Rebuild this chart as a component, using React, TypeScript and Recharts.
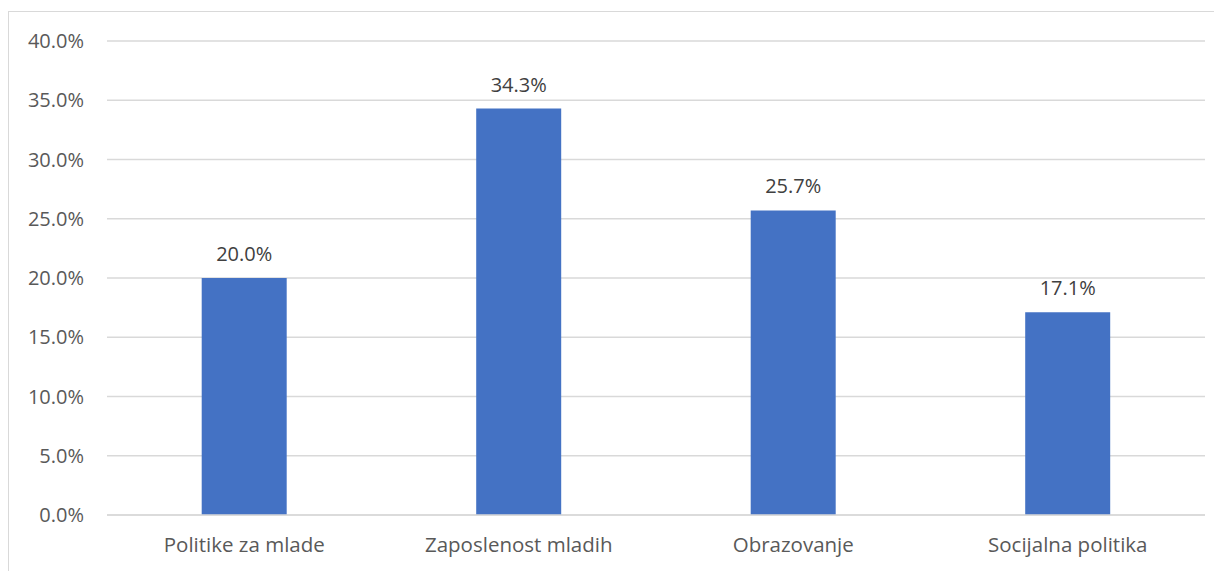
import React from 'react';
import { BarChart, Bar, XAxis, YAxis, CartesianGrid, LabelList } from 'recharts';

const categories = ['Politike za mlade', 'Zaposlenost mladih', 'Obrazovanje', 'Socijalna politika'];
const shares = [20.0, 34.3, 25.7, 17.1];
const yTicks = [0, 5, 10, 15, 20, 25, 30, 35, 40];

const data = categories.map((name, i) => ({ name, value: shares[i] }));

const fmt = (v: number) => `${Number(v).toFixed(1)}%`;

const App = () => {
  return (
    <div
      style={{
        marginTop: 3,
        width: 1214,
        height: 560,
        boxSizing: 'border-box',
        borderTop: '1px solid #d9d9d9',
        borderLeft: '1px solid #d9d9d9',
        fontFamily: '"Open Sans", sans-serif',
      }}
    >
      <BarChart
        width={1213}
        height={559}
        data={data}
        margin={{ top: 29, right: 17, left: 0, bottom: 16 }}
        barCategoryGap="34.5%"
      >
        <CartesianGrid vertical={false} stroke="#d9d9d9" strokeWidth={1.5} />
        <XAxis
          dataKey="name"
          height={40}
          tickLine={false}
          axisLine={{ stroke: '#d9d9d9', strokeWidth: 1.5 }}
          tickSize={0}
          tickMargin={22}
          tick={{ fill: '#595959', fontSize: 20.5 }}
        />
        <YAxis
          width={98}
          domain={[0, 40]}
          ticks={yTicks}
          tickFormatter={fmt}
          axisLine={false}
          tickLine={false}
          tickSize={0}
          tickMargin={23}
          tick={{ fill: '#595959', fontSize: 20 }}
        />
        <Bar dataKey="value" fill="#4472c4" isAnimationActive={false}>
          <LabelList dataKey="value" position="top" offset={17} formatter={fmt} fill="#404040" fontSize={20} />
        </Bar>
      </BarChart>
    </div>
  );
};

export default App;
